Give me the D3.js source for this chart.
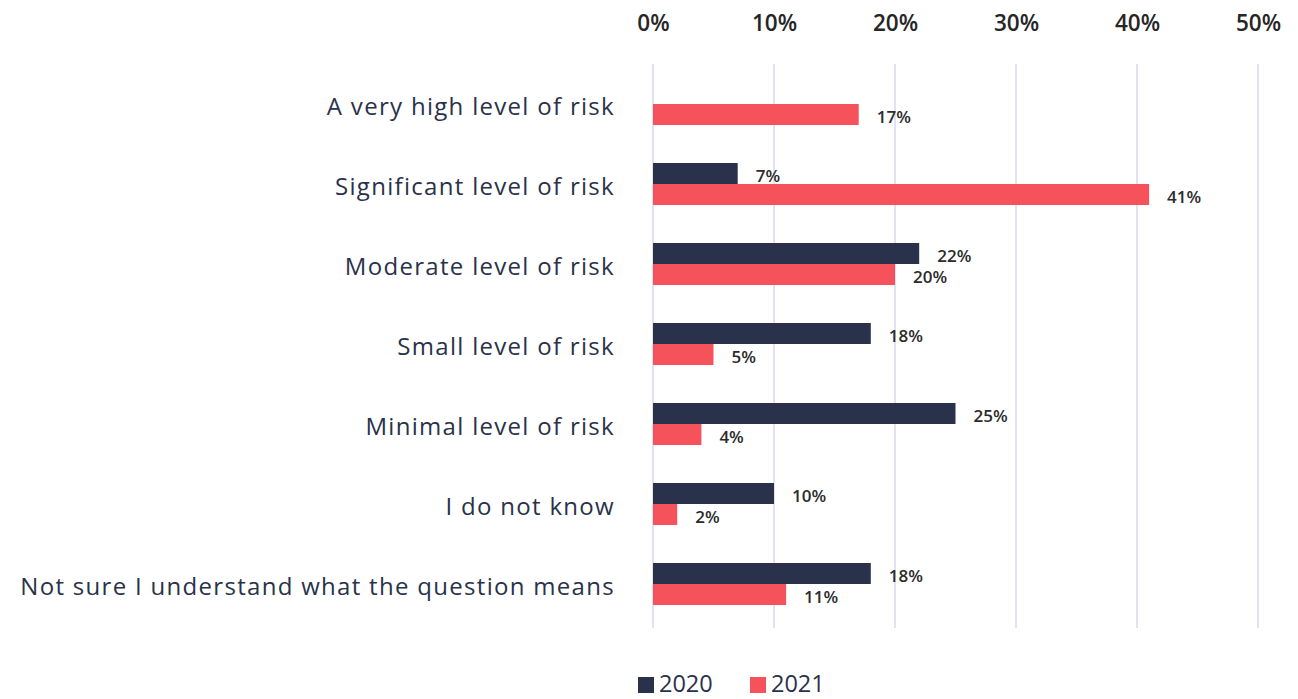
<!DOCTYPE html>
<html>
<head>
<meta charset="utf-8">
<script src="https://cdn.jsdelivr.net/npm/d3@7"></script>
<style>
  html, body { margin: 0; padding: 0; background: #fff; }
  svg { display: block; }
</style>
</head>
<body>
<svg id="chart" width="1298" height="699"></svg>
<script>
// Perceived risk level, share of respondents by year
const categories = [
  "A very high level of risk",
  "Significant level of risk",
  "Moderate level of risk",
  "Small level of risk",
  "Minimal level of risk",
  "I do not know",
  "Not sure I understand what the question means"
];
const seriesNames = ["2020", "2021"];
const values2020 = [null, 7, 22, 18, 25, 10, 18];
const values2021 = [17, 41, 20, 5, 4, 2, 11];
const tickValues = [0, 10, 20, 30, 40, 50];

const colors = { "2020": "#29324a", "2021": "#f6525c" };
const fontFamily = "'Open Sans', 'Noto Sans', sans-serif";

const svg = d3.select("#chart");

const x = d3.scaleLinear().domain([0, 50]).range([653, 1258]);
const y = d3.scaleBand().domain(categories).range([64, 624]).paddingInner(0).paddingOuter(0);
const barH = 21;

// vertical grid lines
svg.append("g")
  .selectAll("line")
  .data(tickValues)
  .join("line")
  .attr("x1", d => x(d)).attr("x2", d => x(d))
  .attr("y1", 64).attr("y2", 628)
  .attr("stroke", "#e1e3f0")
  .attr("stroke-width", 2);

// top axis labels
const axis = d3.axisTop(x).tickValues(tickValues).tickFormat(d => d + "%").tickSize(0);
const gAxis = svg.append("g").attr("transform", "translate(0,31)").call(axis);
gAxis.select(".domain").remove();
gAxis.selectAll("text")
  .attr("dy", 0)
  .attr("y", 0)
  .style("font-family", fontFamily)
  .style("font-size", "22.5px")
  .style("font-weight", 600)
  .attr("fill", "#262626");

// category labels
svg.append("g")
  .selectAll("text")
  .data(categories)
  .join("text")
  .attr("x", 615)
  .attr("y", d => y(d) + y.bandwidth() / 2 + 11)
  .attr("text-anchor", "end")
  .style("font-family", fontFamily)
  .style("font-size", "24px")
  .style("letter-spacing", "1.3px")
  .attr("fill", "#29324a")
  .text(d => d);

// bars
const rows = [];
categories.forEach((c, i) => {
  if (values2020[i] != null) rows.push({ cat: c, series: "2020", v: values2020[i], off: -barH });
  if (values2021[i] != null) rows.push({ cat: c, series: "2021", v: values2021[i], off: 0 });
});

const center = c => y(c) + y.bandwidth() / 2;

svg.append("g")
  .selectAll("rect")
  .data(rows)
  .join("rect")
  .attr("x", x(0))
  .attr("y", d => center(d.cat) + d.off)
  .attr("width", d => x(d.v) - x(0))
  .attr("height", barH)
  .attr("fill", d => colors[d.series]);

// value labels
svg.append("g")
  .selectAll("text")
  .data(rows)
  .join("text")
  .attr("x", d => x(d.v) + 18)
  .attr("y", d => center(d.cat) + d.off + barH / 2 + 8)
  .style("font-family", fontFamily)
  .style("font-size", "17px")
  .style("font-weight", 600)
  .attr("fill", "#2b2b2b")
  .text(d => d.v + "%");

// legend
const legend = svg.append("g").attr("transform", "translate(638,677)");
seriesNames.forEach((s, i) => {
  const g = legend.append("g").attr("transform", `translate(${i * 112},0)`);
  g.append("rect").attr("width", 16).attr("height", 16).attr("fill", colors[s]);
  g.append("text")
    .attr("x", 21).attr("y", 15)
    .style("font-family", fontFamily)
    .style("font-size", "23.5px")
    .attr("fill", "#29324a")
    .text(s);
});
</script>
</body>
</html>
